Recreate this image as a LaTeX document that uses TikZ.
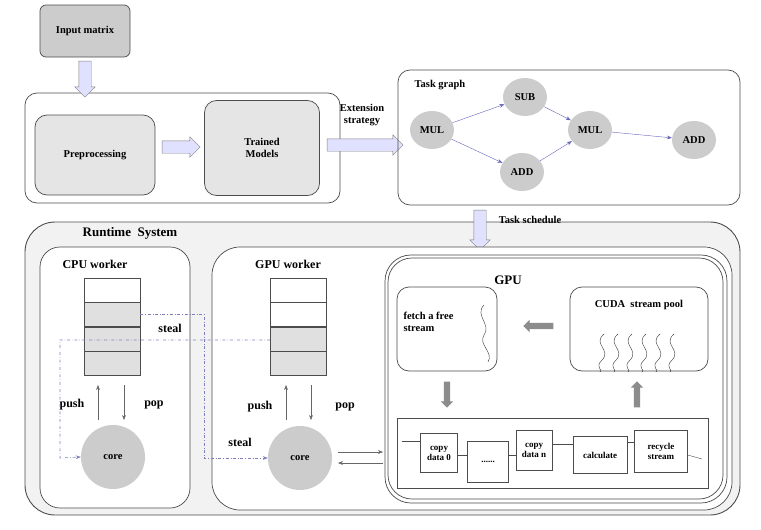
\documentclass[tikz,border=0pt]{standalone}
\usepackage{fontspec}
\setmainfont{Liberation Serif}
\usetikzlibrary{shapes.arrows,shapes.geometric,arrows.meta,positioning}
\begin{document}
\begin{tikzpicture}[x=1pt,y=-1pt,font=\bfseries\fontsize{10.5}{12}\selectfont,
  rbox/.style={draw=black!70,rounded corners=12pt,line width=0.7pt},
  barrow/.style={single arrow,draw=black!50,fill=blue!12,single arrow head extend=4pt,inner sep=6pt},
  garrow/.style={single arrow,draw=none,fill=black!45,single arrow head extend=3pt,inner sep=3pt},
  tnode/.style={ellipse,fill=black!20,minimum width=44pt,minimum height=38pt,inner sep=0pt},
  tl/.style={-{Stealth[length=5pt]},blue!55!black!60},
  qa/.style={draw=black!70,minimum width=56pt,minimum height=24pt,inner sep=0pt},
  core/.style={circle,fill=black!20,minimum size=64pt,inner sep=0pt},
  st/.style={blue!50!black!50,dash dot,line width=0.6pt},
  big/.style={font=\bfseries\fontsize{12}{13}\selectfont},
  pb/.style={draw=black!70,align=center,inner sep=1pt,font=\bfseries\fontsize{9}{10}\selectfont},
  wire/.style={draw=black!70}]
\useasboundingbox (0,0) rectangle (761,530);
% top
\node[rbox,fill=black!20,minimum width=90pt,minimum height=52pt,rounded corners=6pt] (in) at (85,31) {Input matrix};
\draw[rbox] (25,93) rectangle (340,203);
\node[rbox,fill=black!10,minimum width=120pt,minimum height=80pt] (pre) at (95,155) {Preprocessing};
\node[rbox,fill=black!10,minimum width=115pt,minimum height=95pt,align=center] (tm) at (262,148) {Trained\\Models};
\node[barrow,rotate=-90,minimum height=36pt] (a1) at (85,76) {};
\node[barrow,minimum height=38pt] (a2) at (178,147) {};
\node[barrow,minimum height=76pt] (a3) at (362,145) {};
\node[align=center] (es) at (362,115) {Extension\\strategy};
\draw[rbox] (398,70) rectangle (740,205);
\node (tg) at (440,85) {Task graph};
\node[tnode] (m1) at (432,130) {MUL};
\node[tnode] (s1) at (525,97) {SUB};
\node[tnode] (d1) at (522,172) {ADD};
\node[tnode] (m2) at (590,130) {MUL};
\node[tnode] (d2) at (694,140) {ADD};
\draw[tl] (m1) -- (s1); \draw[tl] (m1) -- (d1);
\draw[tl] (s1) -- (m2); \draw[tl] (d1) -- (m2); \draw[tl] (m2) -- (d2);
% runtime
\draw[rbox,fill=black!5,rounded corners=30pt,line width=0.9pt] (25,222) rectangle (740,515);
\node[barrow,rotate=-90,minimum height=40pt] (a4) at (480,227) {};
\node (ts) at (530,220) {Task schedule};
\node[font=\bfseries\fontsize{13}{14}\selectfont] (rs) at (130,233) {Runtime\ \ System};
\draw[rbox,fill=white,rounded corners=20pt] (40,247) rectangle (190,508);
\node[big] (cw) at (95,264) {CPU worker};
\draw[rbox,fill=white,rounded corners=28pt] (212,247) rectangle (732,510);
\node[big] (gw) at (288,264) {GPU worker};
\draw[rbox,fill=white,rounded corners=26pt] (385,255) rectangle (727,503);
\draw[rbox,rounded corners=24pt] (388,258) rectangle (723,499);
% cpu queue
\node[qa,fill=white] (c1) at (112,290) {};
\node[qa,fill=black!12,below=0pt of c1] (c2) {};
\node[qa,fill=black!12,below=0pt of c2] (c3) {};
\node[qa,fill=black!12,below=0pt of c3] (c4) {};
\node[core] (cc) at (113,457) {core};
\draw[-{Stealth[length=5pt]},black!60] (98,420) -- (98,385);
\draw[-{Stealth[length=5pt]},black!60] (124,385) -- (124,420);
\node[big] (pu1) at (72,405) {push};
\node[big] (po1) at (154,405) {pop};
% gpu queue
\node[qa,fill=white] (g1) at (298,290) {};
\node[qa,fill=white,below=0pt of g1] (g2) {};
\node[qa,fill=black!12,below=0pt of g2] (g3) {};
\node[qa,fill=black!12,below=0pt of g3] (g4) {};
\node[core] (gc) at (300,458) {core};
\draw[-{Stealth[length=5pt]},black!60] (286,420) -- (286,385);
\draw[-{Stealth[length=5pt]},black!60] (311,385) -- (311,420);
\node[big] (pu2) at (260,407) {push};
\node[big] (po2) at (345,407) {pop};
% steal
\draw[st,-{Stealth[length=5pt]}] (c2.east|-0,314) -- (204,314) -- (204,458) -- (gc.west);
\draw[st,-{Stealth[length=5pt]}] (g3.west|-0,340) -- (60,340) -- (60,458) -- (cc.west);
\node[big] (s1l) at (170,328) {steal};
\node[big] (s2l) at (240,442) {steal};
% gpu
\node[font=\bfseries\fontsize{13}{14}\selectfont] (gpu) at (508,280) {GPU};
\node[rbox,minimum width=100pt,minimum height=84pt] (fb) at (447,329) {};
\node[align=left,anchor=west] (ft) at (400,322) {fetch a free\\stream};
\draw[black!80] (484,305) .. controls (474,315) and (492,325) .. (484,335) .. controls (478,345) and (494,352) .. (488,362);
\node[rbox,minimum width=138pt,minimum height=84pt] (pb0) at (639,329) {};
\node (cp) at (639,305) {CUDA\ \ stream pool};
\foreach \i in {0,...,5}{\draw[black!80] (604+\i*14,334) .. controls (592+\i*14,344) and (612+\i*14,350) .. (602+\i*14,360) .. controls (594+\i*14,368) and (604+\i*14,370) .. (600+\i*14,372);}
\node[garrow,rotate=180,minimum height=30pt] (ga1) at (540,326) {};
\node[garrow,rotate=-90,minimum height=26pt] (ga2) at (447,393) {};
\node[garrow,rotate=90,minimum height=26pt] (ga3) at (637,396) {};
\draw[black!70] (397,418) rectangle (708,488);
\node[pb,minimum width=37pt,minimum height=39pt] (p1) at (439,453) {copy\\data 0};
\node[pb,minimum width=41pt,minimum height=41pt] (p2) at (488,462) {......};
\node[pb,minimum width=36pt,minimum height=40pt] (p3) at (534,450) {copy\\data n};
\node[pb,minimum width=54pt,minimum height=37pt] (p4) at (600,455) {calculate};
\node[pb,minimum width=53pt,minimum height=42pt] (p5) at (661,451) {recycle\\stream};
\coordinate (pl) at (402,441); \coordinate (pr) at (702,459);
\draw[wire] (pl) -- (p1.west|-pl);
\draw[wire] (p1.east|-0,455) -- (p2.west|-0,455);
\draw[wire] (p2.east|-0,455) -- (p3.west|-0,455);
\draw[wire] (p3.east|-0,444) -- (p4.west|-0,444);
\draw[wire] (p4.east|-0,442) -- (p5.west|-0,442);
\draw[wire] (p5.east|-0,455) -- (pr);
\draw[-{Stealth[length=5pt]},black!60] (338,452) -- (383,452);
\draw[-{Stealth[length=5pt]},black!60] (383,463) -- (338,463);
\end{tikzpicture}
\end{document}
